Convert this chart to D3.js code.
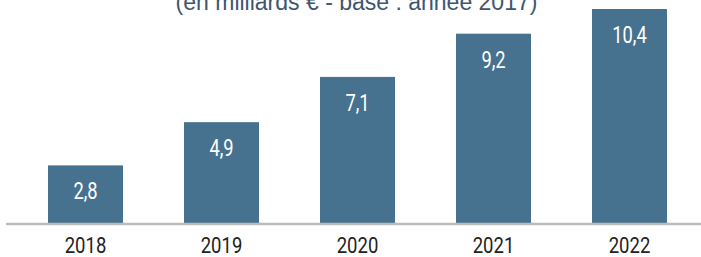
<!DOCTYPE html>
<html>
<head>
<meta charset="utf-8">
<script src="https://cdn.jsdelivr.net/npm/d3@7"></script>
<style>
  body { margin: 0; background: #fff; }
  svg { display: block; }
</style>
</head>
<body>
<svg id="svg" width="701" height="257"></svg>
<script>
// annees et montants (milliards d'euros)
var years = ["2018", "2019", "2020", "2021", "2022"];
var values = [2.8, 4.9, 7.1, 9.2, 10.4];
var valueLabels = ["2,8", "4,9", "7,1", "9,2", "10,4"];
var title = "(en milliards \u20ac - base : ann\u00e9e 2017)";

var svg = d3.select("#svg");
// pas de police etroite installee : Roboto compresse a la main
var narrow = "'Liberation Sans Narrow', 'Arial Narrow', Roboto, sans-serif";

var x = d3.scaleBand()
  .domain(years)
  .range([17.5, 697.5])
  .paddingInner(0.4485)
  .paddingOuter(0.4485 / 2);

var y = d3.scaleLinear()
  .domain([0, 10.4])
  .range([223, 9]);

// titre (coupe en haut dans l'original)
svg.append("text")
  .attr("x", 356.5)
  .attr("y", 10)
  .attr("text-anchor", "middle")
  .attr("font-family", "'Liberation Sans', Arial, sans-serif")
  .attr("font-size", 23)
  .attr("fill", "#3e5570")
  .text(title);

// barres
svg.selectAll("rect.bar")
  .data(values)
  .enter().append("rect")
  .attr("class", "bar")
  .attr("x", function(d, i) { return x(years[i]); })
  .attr("y", function(d) { return y(d); })
  .attr("width", x.bandwidth())
  .attr("height", function(d) { return y(0) - y(d); })
  .attr("fill", "#47728f");

// valeurs dans les barres
svg.selectAll("text.val")
  .data(values)
  .enter().append("text")
  .attr("class", "val")
  .attr("transform", function(d, i) {
    return "translate(" + (x(years[i]) + x.bandwidth() / 2) + "," + (y(d) + 34) + ") scale(0.78,1)";
  })
  .attr("text-anchor", "middle")
  .attr("font-family", narrow)
  .attr("font-size", 23.5)
  .attr("fill", "#fff")
  .text(function(d, i) { return valueLabels[i]; });

// axe x
var axis = svg.append("g")
  .attr("transform", "translate(0," + 224 + ")")
  .call(d3.axisBottom(x).tickSize(0).tickPadding(29));
axis.select(".domain").remove();
axis.selectAll("text")
  .attr("dy", 0)
  .attr("transform", "scale(0.86,1)")
  .attr("font-family", narrow)
  .attr("font-size", 21.5)
  .attr("fill", "#222");

svg.append("line")
  .attr("x1", 6).attr("x2", 701)
  .attr("y1", y(0) + 1).attr("y2", y(0) + 1)
  .attr("stroke", "#bbbbbb")
  .attr("stroke-width", 2.5);
</script>
</body>
</html>
